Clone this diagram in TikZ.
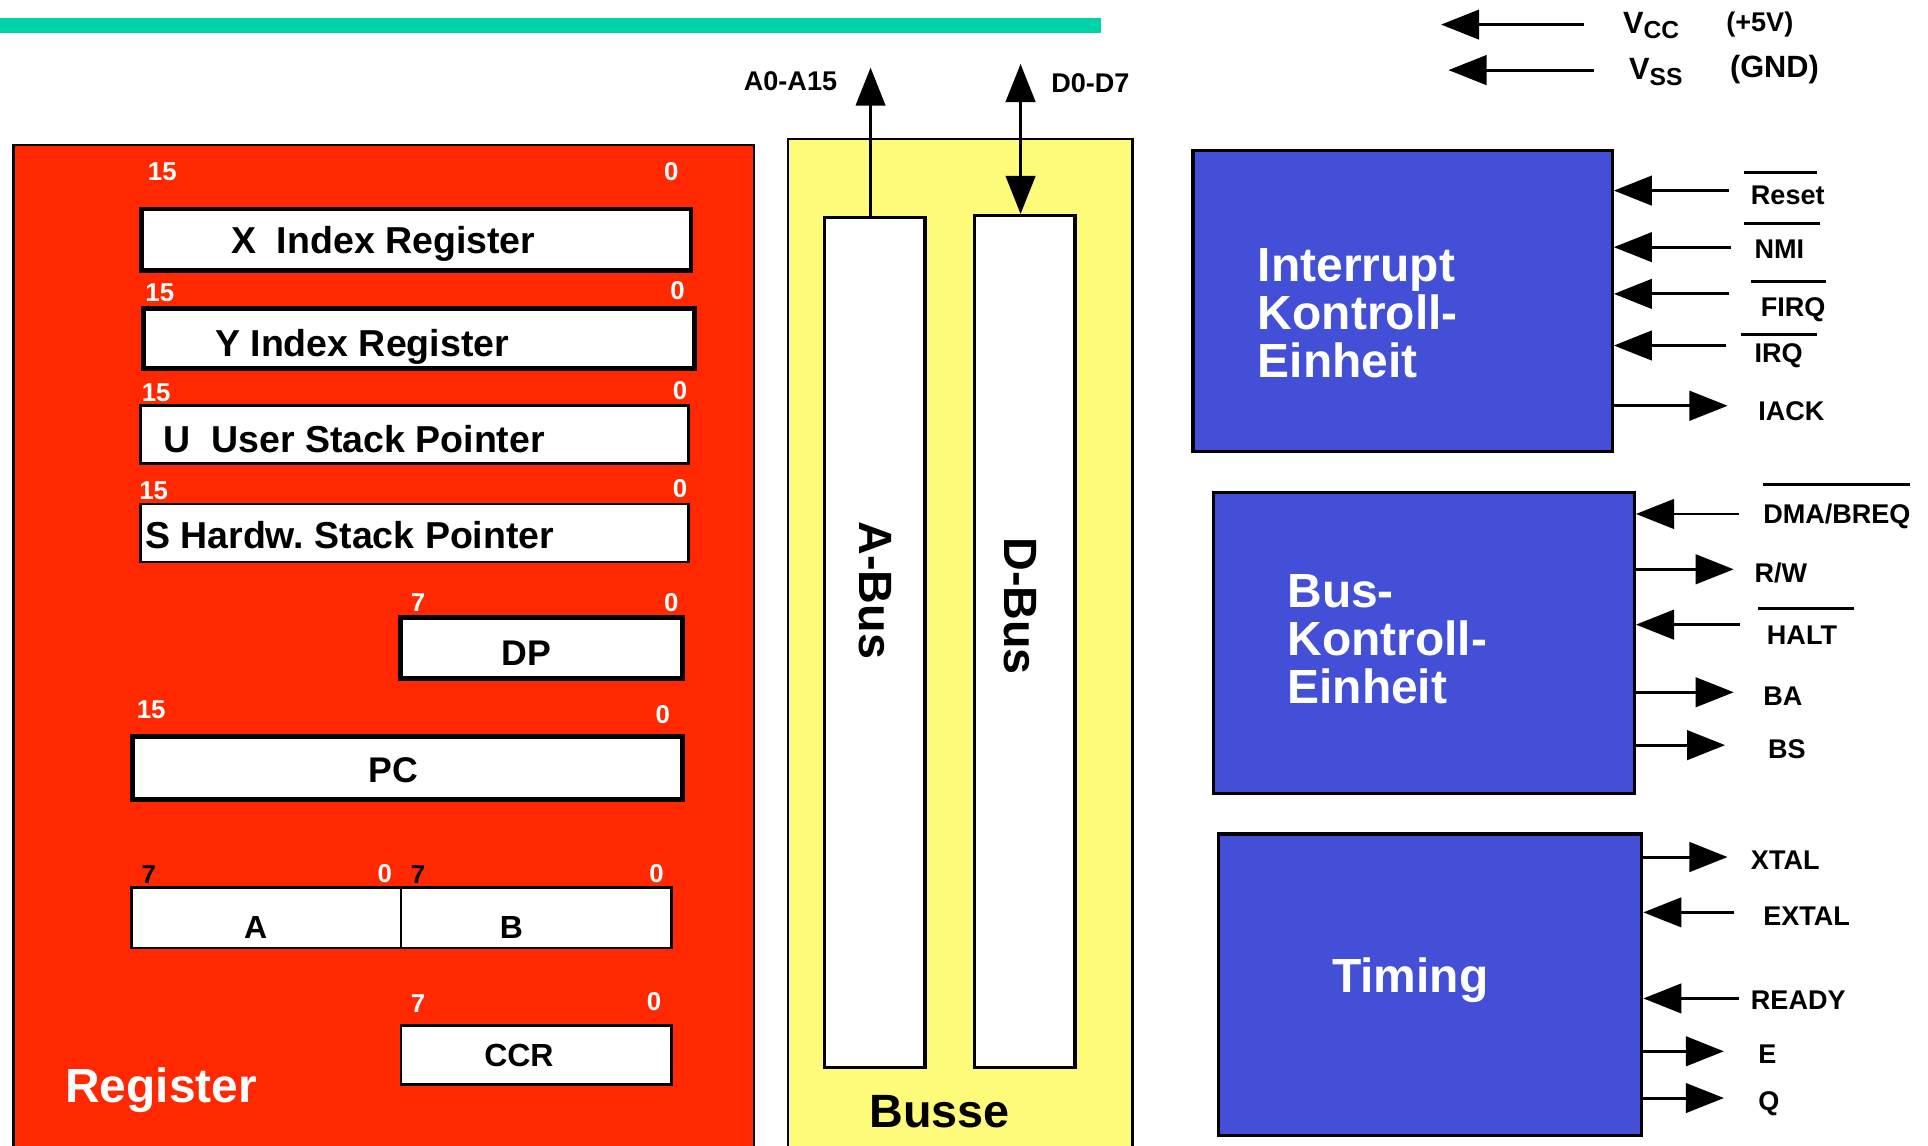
\documentclass[tikz,border=0pt]{standalone}
\usepackage{fontspec}
\setmainfont{Liberation Sans}
\usetikzlibrary{arrows.meta}
\definecolor{tealbar}{RGB}{0,210,170}
\definecolor{regred}{RGB}{255,40,0}
\definecolor{busyellow}{RGB}{255,251,122}
\definecolor{ctrlblue}{RGB}{67,79,214}
\newcommand\fsz[1]{\fontsize{#1}{#1}\selectfont\bfseries}
\tikzset{bigtip/.tip={Triangle[length=31pt,width=24pt]}}
\frenchspacing
\begin{document}
\begin{tikzpicture}[x=1pt,y=-1pt,
  txt/.style={inner sep=0pt, outer sep=0pt},
  panel/.style={draw=black, line width=2pt, anchor=north west, inner sep=0pt},
  thickreg/.style={draw=black, fill=white, line width=4pt, inner sep=0pt},
  thinreg/.style={draw=black, fill=white, line width=2.2pt, inner sep=0pt},
  busbox/.style={draw=black, fill=white, line width=2.5pt, anchor=north west, inner sep=0pt},
  ctrl/.style={draw=black, fill=ctrlblue, line width=2.5pt, anchor=north west, inner sep=0pt},
  sig/.style={line width=2.4pt, -bigtip},
  dsig/.style={line width=2.4pt, bigtip-bigtip},
  ovl/.style={line width=2.5pt},
  bit/.style={txt, anchor=base, text=white, font=\fsz{21}},
  bitk/.style={bit, text=black},
  regname/.style={txt, anchor=base west, font=\fsz{30.5}},
  pin/.style={txt, anchor=base west, font=\fsz{22}},
  big/.style={txt, text=white, font=\fsz{39}},
]
\useasboundingbox (0,0) rectangle (1568,932);
\clip (0,0) rectangle (1568,932);

% top bar
\fill[tealbar] (0,15) rectangle (895,27);

% panels
\node[panel, fill=regred, minimum width=602pt, minimum height=840pt] (regs) at (10,117) {};
\node[panel, fill=busyellow, minimum width=280pt, minimum height=840pt] (busse) at (640,112) {};

% ---------------- registers ----------------
\node[thickreg, minimum width=447pt, minimum height=50pt] (rX) at (338.5,195) {};
\node[thickreg, minimum width=448pt, minimum height=49pt] (rY) at (341,275.5) {};
\node[thinreg, minimum width=446pt, minimum height=47pt] (rU) at (337,353.5) {};
\node[thinreg, minimum width=446pt, minimum height=47pt] (rS) at (337,433.5) {};
\node[thickreg, minimum width=229pt, minimum height=50pt] (rDP) at (440.5,527) {};
\node[thickreg, minimum width=447pt, minimum height=51pt] (rPC) at (331.5,624.5) {};
\node[thinreg, minimum width=219pt, minimum height=49pt] (rA) at (216.5,746.5) {};
\node[thinreg, minimum width=220pt, minimum height=49pt] (rB) at (436,746.5) {};
\node[thinreg, minimum width=220pt, minimum height=48pt] (rCCR) at (436,858) {};

\node[regname] (tX) at (188,206) {X\ \ Index Register};
\node[regname] (tY) at (175,290) {Y Index Register};
\node[regname] (tU) at (133,368) {U\ \ User Stack Pointer};
\node[regname] (tS) at (118,446) {S Hardw.\ Stack Pointer};
\node[txt, anchor=base, font=\fsz{29}] (tDP) at (428,541) {DP};
\node[txt, anchor=base, font=\fsz{29}] (tPC) at (320,636) {PC};
\node[txt, anchor=base, font=\fsz{26}] (tA) at (208,763) {A};
\node[txt, anchor=base, font=\fsz{26}] (tB) at (416,763) {B};
\node[txt, anchor=base, font=\fsz{26}] (tCCR) at (422,867) {CCR};
\node[big, anchor=base west] (tReg) at (53,897) {Register};

% bit numbers
\node[bit] (bX1) at (132,146.5) {15};
\node[bit] (bX0) at (546,146.5) {0};
\node[bit] (bY1) at (130,245.5) {15};
\node[bit] (bY0) at (551,243.5) {0};
\node[bit] (bU1) at (127,326.5) {15};
\node[bit] (bU0) at (553,324.5) {0};
\node[bit] (bS1) at (125,406.5) {15};
\node[bit] (bS0) at (553,404.5) {0};
\node[bit] (bD1) at (340,497.5) {7};
\node[bit] (bD0) at (546,497.5) {0};
\node[bit] (bP1) at (123,584.5) {15};
\node[bit] (bP0) at (539,588.5) {0};
\node[bitk] (bA1) at (121,718.5) {7};
\node[bit] (bA0) at (313,717.5) {0};
\node[bitk] (bB1) at (340,718.5) {7};
\node[bit] (bB0) at (534,717.5) {0};
\node[bit] (bC1) at (340,823.5) {7};
\node[bit] (bC0) at (532,821.5) {0};

% ---------------- busses ----------------
\node[busbox, minimum width=82pt, minimum height=691pt] (abus) at (669,176) {};
\node[txt, rotate=-90, font=\fsz{38}] (abusl) at (712,480) {A-Bus};
\node[busbox, minimum width=82pt, minimum height=693pt] (dbus) at (791,174) {};
\node[txt, rotate=-90, font=\fsz{38}] (dbusl) at (830,493) {D-Bus};
\node[txt, anchor=base, font=\fsz{38}] (bussel) at (764,917) {Busse};

\coordinate (aTop) at (708,55);
\draw[sig] (aTop |- abus.north) -- (aTop);
\coordinate (dTop) at (830,52);
\draw[dsig] (dTop) -- (dTop |- dbus.north);
\node[pin] (la) at (605,74) {A0-A15};
\node[pin] (ld) at (855,75) {D0-D7};

% ---------------- supply ----------------
\coordinate (vccS) at (1288,20);
\coordinate (vccT) at (1172,20);
\draw[sig] (vccS) -- (vccT);
\coordinate (vssS) at (1296,57);
\coordinate (vssT) at (1178,57);
\draw[sig] (vssS) -- (vssT);
\node[txt, anchor=base west, font=\fsz{25}] (vcc) at (1320,27) {V\raisebox{-4.5pt}{\fsz{20}CC}};
\node[txt, anchor=base west, font=\fsz{22}] (vccv) at (1404,26) {(+5V)};
\node[txt, anchor=base west, font=\fsz{25}] (vss) at (1325,65) {V\raisebox{-4.5pt}{\fsz{20}SS}};
\node[txt, anchor=base west, font=\fsz{25}] (vssv) at (1407,63) {(GND)};

% ---------------- control units ----------------
\node[ctrl, minimum width=341pt, minimum height=245pt] (intk) at (969,121) {};
\node[big, anchor=north west, align=left] (intl) at (1023,202) {Interrupt\\Kontroll-\\Einheit};
\node[ctrl, minimum width=342pt, minimum height=245pt] (busk) at (986,399) {};
\node[big, anchor=north west, align=left] (busl) at (1047,467) {Bus-\\Kontroll-\\Einheit};
\node[ctrl, minimum width=344pt, minimum height=245pt] (timk) at (990,677) {};
\node[big, anchor=base] (timl) at (1147,807) {Timing};

% interrupt pins
\coordinate (pReset) at (1406,155);
\coordinate (pNMI) at (1408,201);
\coordinate (pFIRQ) at (1406,239);
\coordinate (pIRQ) at (1404,281);
\coordinate (pIACK) at (1405,330);
\draw[sig] (pReset) -- (pReset -| intk.east);
\draw[sig] (pNMI) -- (pNMI -| intk.east);
\draw[sig] (pFIRQ) -- (pFIRQ -| intk.east);
\draw[sig] (pIRQ) -- (pIRQ -| intk.east);
\draw[sig] (pIACK -| intk.east) -- (pIACK);
\node[pin] (lReset) at (1424,166) {Reset};
\node[pin] (lNMI) at (1427,210) {NMI};
\node[pin] (lFIRQ) at (1432,257) {FIRQ};
\node[pin] (lIRQ) at (1427,295) {IRQ};
\node[pin] (lIACK) at (1430,342) {IACK};
\draw[ovl] (1418,140) -- (1478,140);
\draw[ovl] (1418,182) -- (1480,182);
\draw[ovl] (1424,229) -- (1485,229);
\draw[ovl] (1416,272) -- (1478,272);

% bus control pins
\coordinate (pDMA) at (1414,418);
\coordinate (pRW) at (1410,463);
\coordinate (pHALT) at (1415,508);
\coordinate (pBA) at (1410,563);
\coordinate (pBS) at (1403,606);
\draw[sig] (pDMA) -- (pDMA -| busk.east);
\draw[sig] (pRW -| busk.east) -- (pRW);
\draw[sig] (pHALT) -- (pHALT -| busk.east);
\draw[sig] (pBA -| busk.east) -- (pBA);
\draw[sig] (pBS -| busk.east) -- (pBS);
\node[pin] (lDMA) at (1434,426) {DMA/BREQ};
\node[pin] (lRW) at (1427,474) {R/W};
\node[pin] (lHALT) at (1437,524) {HALT};
\node[pin] (lBA) at (1434,574) {BA};
\node[pin] (lBS) at (1438,617) {BS};
\draw[ovl] (1434,394) -- (1553,394);
\draw[ovl] (1430,495) -- (1508,495);

% timing pins
\coordinate (pXTAL) at (1405,697);
\coordinate (pEXTAL) at (1410,742);
\coordinate (pREADY) at (1414,812);
\coordinate (pE) at (1402,855);
\coordinate (pQ) at (1402,893);
\draw[sig] (pXTAL -| timk.east) -- (pXTAL);
\draw[sig] (pEXTAL) -- (pEXTAL -| timk.east);
\draw[sig] (pREADY) -- (pREADY -| timk.east);
\draw[sig] (pE -| timk.east) -- (pE);
\draw[sig] (pQ -| timk.east) -- (pQ);
\node[pin] (lXTAL) at (1424,707) {XTAL};
\node[pin] (lEXTAL) at (1434,753) {EXTAL};
\node[pin] (lREADY) at (1424,821) {READY};
\node[pin] (lE) at (1430,865) {E};
\node[pin] (lQ) at (1430,903) {Q};
\end{tikzpicture}
\end{document}
